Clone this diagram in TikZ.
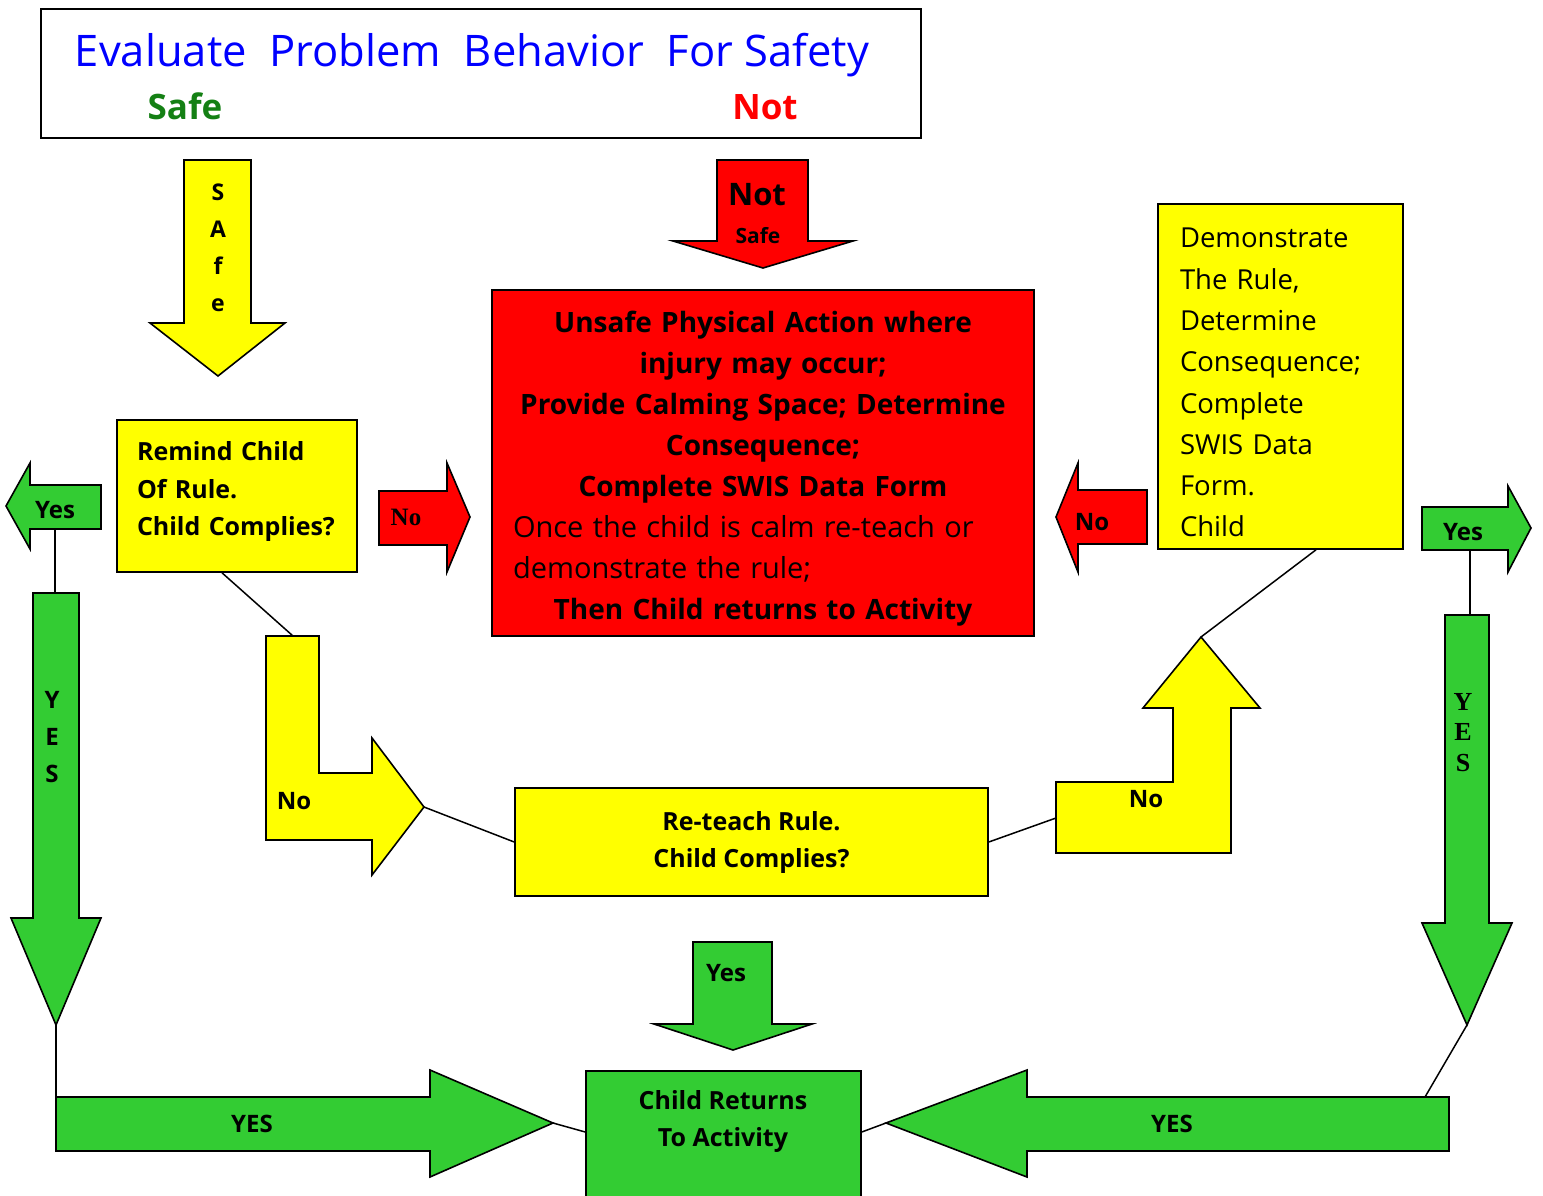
\documentclass[tikz,border=0pt]{standalone}
\usepackage{fontspec}
\setmainfont{Open Sans}
\newfontfamily\timesfont{Liberation Serif}
\usepackage{tikz}
\usetikzlibrary{calc}
\definecolor{yelC}{RGB}{255,255,0}
\definecolor{redC}{RGB}{255,0,0}
\definecolor{grnC}{RGB}{51,204,51}
\definecolor{titleblue}{RGB}{0,0,255}
\definecolor{safegreen}{RGB}{20,128,20}
\tikzstyle{ybox} = [rectangle, draw, fill=yelC, line width=1.6pt, inner sep=0pt]
\tikzstyle{rbox} = [rectangle, draw, fill=redC, line width=1.6pt, inner sep=0pt]
\tikzstyle{gbox} = [rectangle, draw, fill=grnC, line width=1.6pt, inner sep=0pt]
\tikzstyle{yfill} = [draw, fill=yelC, line width=1.6pt, line join=miter]
\tikzstyle{rfill} = [draw, fill=redC, line width=1.6pt, line join=miter]
\tikzstyle{gfill} = [draw, fill=grnC, line width=1.6pt, line join=miter]
\tikzstyle{lbl} = [inner sep=0pt, align=center, font=\bfseries\fontsize{24}{37}\selectfont]
\tikzstyle{line} = [draw, line width=1.5pt]
\newcommand{\calmline}[1]{\makebox[500pt][l]{\mdseries\fontsize{29}{41}\selectfont #1}}

\begin{document}
\begin{tikzpicture}[x=1pt,y=-1pt]
    \clip (0,0) rectangle (1543,1196);
    % heading
    \node [rectangle, draw, line width=1.6pt, minimum width=880, minimum height=129] (header) at (481,73.5) {};
    \node [inner sep=0pt, anchor=base, text=titleblue, font=\fontsize{43.5}{48}\selectfont] (headtxt) at (472,67) {Evaluate\ \ Problem\ \ Behavior\ \ For Safety};
    \node [lbl, anchor=base, text=safegreen, font=\bfseries\fontsize{35}{40}\selectfont] (headsafe) at (185,120) {Safe};
    \node [lbl, anchor=base, text=redC, font=\bfseries\fontsize{35}{40}\selectfont] (headnot) at (765,120) {Not};

    % safe / not safe
    \path[yfill] (184,160) -- (251,160) -- (251,323) -- (285,323) -- (218,376) -- (150,323) -- (184,323) -- cycle;
    \node [lbl, anchor=north, font=\bfseries\fontsize{23}{37}\selectfont] (safelbl) at (218,184) {S\\A\\f\\e};
    \path[rfill] (717,160) -- (808,160) -- (808,241) -- (853,241) -- (763,268) -- (673,241) -- (717,241) -- cycle;
    \node [lbl, anchor=base, font=\bfseries\fontsize{31}{34}\selectfont] (notlbl) at (757,205) {Not};
    \node [lbl, anchor=base, font=\bfseries\fontsize{21}{24}\selectfont] (notsafelbl) at (758,243) {Safe};

    % boxes
    \node [rbox, minimum width=542, minimum height=346, text width=500, align=center, font=\bfseries\fontsize{28}{41}\selectfont] (unsafe) at (763,463) {\rule{0pt}{33pt}Unsafe Physical Action where\\ injury may occur;\\ Provide Calming Space; Determine\\ Consequence;\\ Complete SWIS Data Form\\ \calmline{Once the child is calm re-teach or}\\ \calmline{demonstrate the rule;}\\ Then Child returns to Activity};
    \node [ybox, minimum width=240, minimum height=152, text width=200, align=left, font=\bfseries\fontsize{25}{37.5}\selectfont] (remind) at (237,496) {Remind Child\\ Of Rule.\\ Child Complies?\rule[-14pt]{0pt}{14pt}};
    \node [ybox, minimum width=245, minimum height=345, text width=201, align=left, font=\fontsize{27.5}{41.3}\selectfont] (demo) at (1280.5,376.5) {\rule{0pt}{32pt}Demonstrate\\ The Rule,\\ Determine\\ Consequence;\\ Complete\\ SWIS Data\\ Form.\\ Child};
    \node [ybox, minimum width=473, minimum height=108, align=center, font=\bfseries\fontsize{25}{37}\selectfont] (reteach) at (751.5,842) {Re-teach Rule.\\ Child Complies?};
    \node [gbox, minimum width=275, minimum height=140, anchor=north] (back) at (723.5,1070) {};
    \node [lbl, font=\bfseries\fontsize{25}{37}\selectfont] (backlbl) at (723,1121) {Child Returns\\ To Activity};

    % red no arrows
    \path[rfill] (379,491) -- (447,491) -- (447,463) -- (470,517) -- (447,572) -- (447,545) -- (379,545) -- cycle;
    \node [lbl, anchor=base, font=\timesfont\bfseries\fontsize{25}{27}\selectfont] (nored1) at (406,525) {No};
    \path[rfill] (1147,490) -- (1078,490) -- (1078,463) -- (1056,517) -- (1078,572) -- (1078,544) -- (1147,544) -- cycle;
    \node [lbl, anchor=base] (nored2) at (1092,530) {No};

    % bent no arrows
    \path[yfill] (266,636) -- (319,636) -- (319,773) -- (372,773) -- (372,738) -- (424,807) coordinate (bendLtip) -- (372,875) -- (372,840) -- (266,840) -- cycle;
    \node [lbl, anchor=base] (nobend1) at (294,809) {No};
    \path[yfill] (1056,853) -- (1056,782) -- (1173,782) -- (1173,708) -- (1143,708) -- (1201,637) coordinate (bendRtip) -- (1260,708) -- (1231,708) -- (1231,853) -- cycle;
    \node [lbl, anchor=base] (nobend2) at (1146,807) {No};

    % left yes path
    \path[gfill] (101,485) -- (101,529) -- (30,529) -- (30,549) -- (6,506) -- (30,463) -- (30,485) -- cycle;
    \node [lbl, anchor=base] (yesL) at (55,518) {Yes};
    \path[gfill] (33,593) -- (79,593) -- (79,918) -- (101,918) -- (56,1025) coordinate (downLtip) -- (11,918) -- (33,918) -- cycle;
    \node [lbl, anchor=north] (downL) at (52,691) {Y\\E\\S};
    \path[gfill] (56,1097) -- (430,1097) -- (430,1070) -- (553,1123) coordinate (bottomLtip) -- (430,1177) -- (430,1151) -- (56,1151) -- cycle;
    \node [lbl, anchor=base] (yesBL) at (252,1132) {YES};

    % middle yes
    \path[gfill] (693,942) -- (772,942) -- (772,1024) -- (812,1024) -- (733,1050) -- (654,1024) -- (693,1024) -- cycle;
    \node [lbl, anchor=base] (yesC) at (726,981) {Yes};

    % right yes path
    \path[gfill] (1422,507) -- (1508,507) -- (1508,486) -- (1531,528) -- (1508,572) -- (1508,550) -- (1422,550) -- cycle;
    \node [lbl, anchor=base] (yesR) at (1463,540) {Yes};
    \path[gfill] (1445,615) -- (1489,615) -- (1489,923) -- (1512,923) -- (1467,1025) coordinate (downRtip) -- (1422,923) -- (1445,923) -- cycle;
    \node [lbl, anchor=north, font=\timesfont\bfseries\fontsize{26}{30.5}\selectfont] (downR) at (1463,693) {Y\\E\\S};
    \path[gfill] (1449,1097) -- (1027,1097) -- (1027,1070) -- (886,1123) coordinate (bottomRtip) -- (1027,1177) -- (1027,1151) -- (1449,1151) -- cycle;
    \node [lbl, anchor=base] (yesBR) at (1172,1132) {YES};

    % connectors
    \coordinate (bendLtop) at (293,636);
    \coordinate (bendRfoot) at (1056,818);
    \coordinate (yesLfoot) at (55,529);
    \coordinate (downLtop) at (55,593);
    \coordinate (bottomLtop) at (56,1097);
    \coordinate (yesRfoot) at (1470,550);
    \coordinate (downRtop) at (1470,615);
    \coordinate (bottomRtop) at (1425,1097);
    \path[line] ([xshift=-15pt]remind.south) -- (bendLtop);
    \path[line] (bendLtip) -- (reteach.west);
    \path[line] (reteach.east) -- (bendRfoot);
    \path[line] (bendRtip) -- ([xshift=35.5pt]demo.south);
    \path[line] (yesLfoot) -- (downLtop);
    \path[line] (downLtip) -- (bottomLtop);
    \path[line] (bottomLtip) -- ($(back.north west)+(0,62)$);
    \path[line] ($(back.north east)+(0,62)$) -- (bottomRtip);
    \path[line] (yesRfoot) -- (downRtop);
    \path[line] (downRtip) -- (bottomRtop);
\end{tikzpicture}
\end{document}
